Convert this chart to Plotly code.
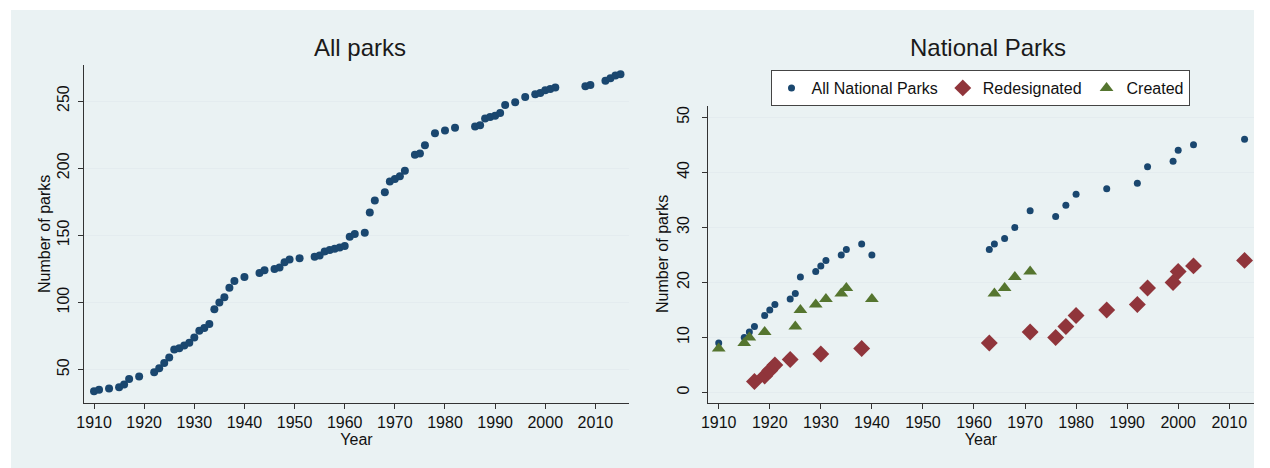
import plotly.graph_objects as go

# ---- Data: All parks (cumulative count by year) ----
all_years = [1910, 1911, 1913, 1915, 1916, 1917, 1919, 1922, 1923, 1924, 1925, 1926, 1927, 1928,
             1929, 1930, 1931, 1932, 1933, 1934, 1935, 1936, 1937, 1938, 1940, 1943, 1944, 1946,
             1947, 1948, 1949, 1951, 1954, 1955, 1956, 1957, 1958, 1959, 1960, 1961, 1962, 1964,
             1965, 1966, 1968, 1969, 1970, 1971, 1972, 1974, 1975, 1976, 1978, 1980, 1982, 1986,
             1987, 1988, 1989, 1990, 1991, 1992, 1994, 1996, 1998, 1999, 2000, 2001, 2002, 2008,
             2009, 2012, 2013, 2014, 2015]
all_counts = [34, 35, 36, 37, 39, 43, 45, 48, 51, 55, 59, 65, 66, 68,
              70, 74, 79, 81, 84, 95, 100, 104, 111, 116, 119, 122, 124, 125,
              126, 130, 132, 133, 134, 135, 138, 139, 140, 141, 142, 149, 151, 152,
              167, 176, 182, 190, 192, 194, 198, 210, 211, 217, 226, 228, 230, 231,
              232, 237, 238, 239, 241, 247, 249, 253, 255, 256, 258, 259, 260, 261,
              262, 265, 267, 269, 270]

# ---- Data: National Parks ----
np_years = [1910, 1915, 1916, 1917, 1919, 1920, 1921, 1924, 1925, 1926, 1929, 1930, 1931, 1934,
            1935, 1938, 1940, 1963, 1964, 1966, 1968, 1971, 1976, 1978, 1980, 1986, 1992, 1994,
            1999, 2000, 2003, 2013]
np_counts = [9, 10, 11, 12, 14, 15, 16, 17, 18, 21, 22, 23, 24, 25,
             26, 27, 25, 26, 27, 28, 30, 33, 32, 34, 36, 37, 38, 41,
             42, 44, 45, 46]

redes_years = [1917, 1919, 1920, 1921, 1924, 1930, 1938, 1963, 1971, 1976, 1978, 1980, 1986,
               1992, 1994, 1999, 2000, 2003, 2013]
redes_counts = [2, 3, 4, 5, 6, 7, 8, 9, 11, 10, 12, 14, 15,
                16, 19, 20, 22, 23, 24]

created_years = [1910, 1915, 1916, 1919, 1925, 1926, 1929, 1931, 1934, 1935, 1940, 1964, 1966,
                 1968, 1971]
created_counts = [8, 9, 10, 11, 12, 15, 16, 17, 18, 19, 17, 18, 19,
                  21, 22]

year_ticks = [1910, 1920, 1930, 1940, 1950, 1960, 1970, 1980, 1990, 2000, 2010]
left_y_ticks = [50, 100, 150, 200, 250]
right_y_ticks = [0, 10, 20, 30, 40, 50]

W, H = 1270, 468
NAVY = "#1a476f"
MAROON = "#90353b"
GREEN = "#55752f"
BG = "#eaf2f3"
GRID = "#e4ecef"
FONT = "Liberation Sans, Arial, sans-serif"
TXT = "#111111"


def fx(px):
    return px / W


def fy(py):
    return 1 - py / H


fig = go.Figure()

fig.add_trace(go.Scatter(x=all_years, y=all_counts, mode="markers",
                         marker=dict(color=NAVY, size=8, symbol="circle"),
                         xaxis="x", yaxis="y", showlegend=False, name="All parks"))

fig.add_trace(go.Scatter(x=np_years, y=np_counts, mode="markers", name="All National Parks",
                         marker=dict(color=NAVY, size=7, symbol="circle"),
                         xaxis="x2", yaxis="y2"))
fig.add_trace(go.Scatter(x=redes_years, y=redes_counts, mode="markers", name="Redesignated",
                         marker=dict(color=MAROON, size=13, symbol="diamond"),
                         xaxis="x2", yaxis="y2"))
fig.add_trace(go.Scatter(x=created_years, y=created_counts, mode="markers", name="Created",
                         marker=dict(color=GREEN, size=12, symbol="triangle-up"),
                         xaxis="x2", yaxis="y2"))

axis_common = dict(showline=True, linecolor="#333333", linewidth=1, ticks="outside",
                   ticklen=5, tickcolor="#333333", tickfont=dict(size=16, color=TXT),
                   zeroline=False, mirror=False, automargin=False)

xcommon = dict(axis_common, showgrid=False, tickvals=year_ticks,
               title=dict(text="Year", font=dict(size=16, color=TXT), standoff=0))
ycommon = dict(axis_common, showgrid=True, gridcolor=GRID, gridwidth=1, tickangle=-90)

fig.update_layout(
    width=W, height=H,
    margin=dict(l=0, r=0, t=0, b=0, autoexpand=False),
    paper_bgcolor="white",
    plot_bgcolor="white",
    font=dict(family=FONT, color=TXT),
    xaxis=dict(xcommon, domain=[fx(84), fx(629)], range=[1908.0, 2016.7], anchor="y"),
    yaxis=dict(ycommon, domain=[fy(403), fy(65)], range=[25.2, 276.8], tickvals=left_y_ticks,
               anchor="x", ticklabelstandoff=3),
    xaxis2=dict(xcommon, domain=[fx(708), fx(1254)], range=[1907.9, 2014.85], anchor="y2"),
    yaxis2=dict(ycommon, domain=[fy(403), fy(106)], range=[-1.9, 52.05], tickvals=right_y_ticks,
                anchor="x2", ticklabelstandoff=7),
    showlegend=True,
    legend=dict(orientation="h", x=fx(980), y=fy(70), xanchor="center", yanchor="top",
                bgcolor="white", bordercolor="#444444", borderwidth=1,
                font=dict(size=16, color=TXT), itemsizing="trace",
                tracegroupgap=0, itemwidth=30),
    shapes=[dict(type="rect", xref="paper", yref="paper", x0=fx(11), x1=fx(1254),
                 y0=0, y1=fy(10), fillcolor=BG, line=dict(width=0), layer="below")],
    annotations=[
        dict(text="All parks", x=fx(360), y=fy(48), xref="paper", yref="paper",
             showarrow=False, font=dict(size=24, color="#1a1a1a"), xanchor="center",
             yanchor="middle"),
        dict(text="National Parks", x=fx(988), y=fy(48), xref="paper", yref="paper",
             showarrow=False, font=dict(size=24, color="#1a1a1a"), xanchor="center",
             yanchor="middle"),
        dict(text="Number of parks", x=fx(44), y=fy(234), xref="paper", yref="paper",
             showarrow=False, textangle=-90, font=dict(size=16, color=TXT),
             xanchor="center", yanchor="middle"),
        dict(text="Number of parks", x=fx(663), y=fy(254), xref="paper", yref="paper",
             showarrow=False, textangle=-90, font=dict(size=16, color=TXT),
             xanchor="center", yanchor="middle"),
    ],
)

fig.write_html("out.html", config={"displayModeBar": False},
               post_script="document.body.style.margin='0px';document.body.style.overflow='hidden';")
